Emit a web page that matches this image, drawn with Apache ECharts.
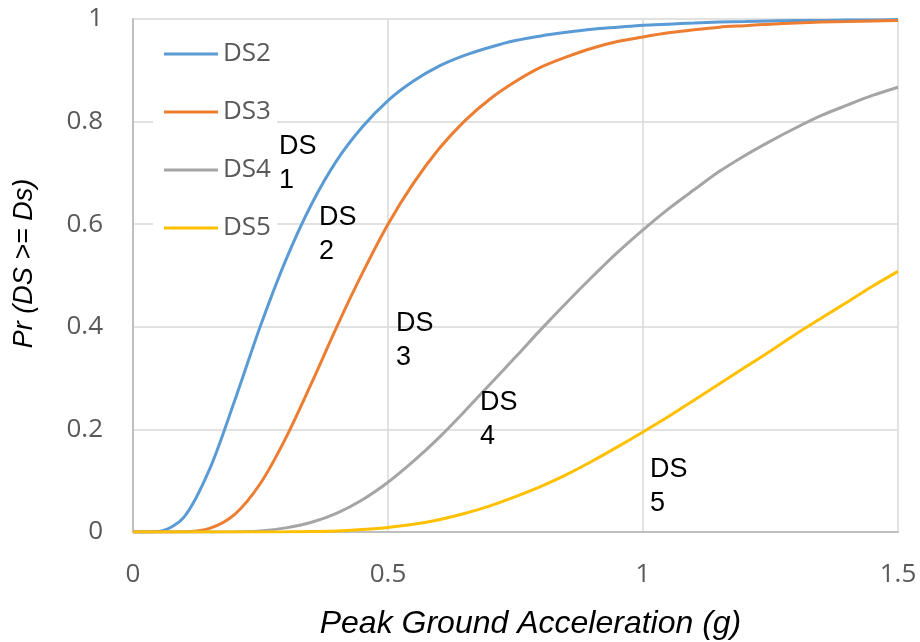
<!DOCTYPE html>
<html>
<head>
<meta charset="utf-8">
<script src="https://cdn.jsdelivr.net/npm/echarts@6/dist/echarts.min.js"></script>
<style>html,body{margin:0;padding:0;background:#fff;}#c{width:920px;height:642px;}</style>
</head>
<body>
<div id="c"></div>
<script>
// Peak ground acceleration (g)
const pga = [0, 0.05, 0.10, 0.15, 0.20, 0.25, 0.30, 0.35, 0.40, 0.45, 0.50, 0.55, 0.60, 0.65, 0.70, 0.75,
  0.80, 0.85, 0.90, 0.95, 1.00, 1.05, 1.10, 1.15, 1.20, 1.25, 1.30, 1.35, 1.40, 1.45, 1.50];
const seriesNames = ['DS2', 'DS3', 'DS4', 'DS5'];
const ds2 = [0, 0.001, 0.029, 0.122, 0.258, 0.402, 0.531, 0.639, 0.725, 0.790, 0.841, 0.879, 0.908, 0.929, 0.945, 0.958,
  0.967, 0.974, 0.980, 0.984, 0.988, 0.990, 0.992, 0.994, 0.995, 0.996, 0.997, 0.997, 0.998, 0.998, 0.999];
const ds3 = [0, 0, 0.0004, 0.007, 0.035, 0.095, 0.184, 0.290, 0.401, 0.505, 0.600, 0.680, 0.747, 0.801, 0.844, 0.878,
  0.906, 0.926, 0.943, 0.956, 0.965, 0.973, 0.979, 0.984, 0.987, 0.990, 0.992, 0.994, 0.995, 0.996, 0.997];
const ds4 = [0, 0, 0, 0, 0.0005, 0.002, 0.008, 0.019, 0.037, 0.063, 0.097, 0.138, 0.184, 0.235, 0.288, 0.341,
  0.395, 0.447, 0.497, 0.545, 0.589, 0.630, 0.667, 0.703, 0.734, 0.762, 0.788, 0.812, 0.832, 0.851, 0.867];
const ds5 = [0, 0, 0, 0, 0, 0.0001, 0.0003, 0.001, 0.002, 0.005, 0.009, 0.015, 0.024, 0.036, 0.051, 0.069,
  0.089, 0.112, 0.138, 0.166, 0.195, 0.225, 0.257, 0.289, 0.321, 0.353, 0.386, 0.417, 0.448, 0.479, 0.508];
const xTicks = [0, 0.5, 1, 1.5];
const yTicks = [0, 0.2, 0.4, 0.6, 0.8, 1];
const annotations = ['DS\n1', 'DS\n2', 'DS\n3', 'DS\n4', 'DS\n5'];
const xTitle = 'Peak Ground Acceleration (g)';
const yTitle = 'Pr (DS >= Ds)';

const colors = ['#5B9BD5', '#ED7D31', '#A5A5A5', '#FFC000'];
const values = [ds2, ds3, ds4, ds5];
const annPos = [[279, 130], [319, 201], [396, 307], [480, 386], [650, 453]];

const chart = echarts.init(document.getElementById('c'), null, {renderer: 'canvas'});
const tickFont = {fontFamily: 'Open Sans', fontSize: 26, color: '#595959'};

chart.setOption({
  animation: false,
  backgroundColor: '#fff',
  grid: {left: 133, right: 22, top: 19, bottom: 110, containLabel: false, outerBoundsMode: 'none'},
  xAxis: {
    type: 'value', min: xTicks[0], max: xTicks[xTicks.length - 1], interval: xTicks[1] - xTicks[0],
    name: xTitle, nameLocation: 'middle', nameGap: 76,
    nameTextStyle: {fontFamily: 'Liberation Sans', fontStyle: 'italic', fontSize: 32, color: '#000', padding: [0, 0, 0, 30]},
    axisLine: {show: true, lineStyle: {color: '#bfbfbf', width: 2}},
    axisTick: {show: false},
    axisLabel: Object.assign({margin: 30}, tickFont),
    splitLine: {show: true, lineStyle: {color: '#d9d9d9', width: 1.5}}
  },
  yAxis: {
    type: 'value', min: yTicks[0], max: yTicks[yTicks.length - 1], interval: yTicks[1] - yTicks[0],
    name: yTitle, nameLocation: 'middle', nameGap: 95,
    nameTextStyle: {fontFamily: 'Liberation Sans', fontStyle: 'italic', fontSize: 27, color: '#000', padding: [0, 0, 0, 24]},
    axisLine: {show: true, lineStyle: {color: '#bfbfbf', width: 2}},
    axisTick: {show: false},
    axisLabel: Object.assign({margin: 30}, tickFont),
    splitLine: {show: true, lineStyle: {color: '#d9d9d9', width: 1.5}}
  },
  legend: {
    orient: 'vertical', left: 153, top: 30, padding: [9, 6, 9, 11],
    backgroundColor: '#fff', itemGap: 28, itemWidth: 54, itemHeight: 3,
    icon: 'rect', itemStyle: {borderWidth: 0},
    textStyle: {fontFamily: 'Open Sans', fontSize: 26, color: '#595959', lineHeight: 30},
    data: seriesNames
  },
  series: seriesNames.map((n, i) => ({
    name: n, type: 'line', showSymbol: false, symbol: 'none', smooth: 0.3,
    z: 3 + i,
    lineStyle: {color: colors[i], width: 3}, itemStyle: {color: colors[i]},
    data: pga.map((x, k) => [x, values[i][k]])
  })),
  graphic: annotations.map((t, i) => ({
    type: 'text', left: annPos[i][0], top: annPos[i][1], z: 100,
    style: {text: t, fontFamily: 'Liberation Sans', fontSize: 27, lineHeight: 34, fill: '#000'}
  }))
});
</script>
</body>
</html>
